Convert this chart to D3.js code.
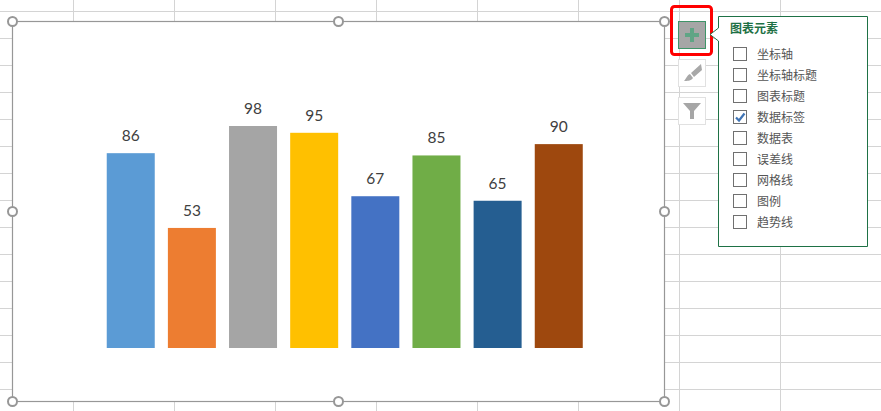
<!DOCTYPE html>
<html lang="zh-CN">
<head>
    <meta charset="UTF-8">
    <title>图表元素</title>
    <script src="https://d3js.org/d3.v7.min.js"></script>
    <style>
        html, body { margin: 0; padding: 0; background: #fff; overflow: hidden; }
        svg { display: block; }
        .value { font: 15.5px Lato, sans-serif; fill: #404040; text-anchor: middle; }
        .item { font: 12px "Noto Sans CJK SC", sans-serif; fill: #555; }
        .title { font: bold 12px "Noto Sans CJK SC", sans-serif; fill: #1e7145; }
    </style>
</head>
<body>
    <div id="chart"></div>
    <script>
        // Bars
        const categories = ["a", "b", "c", "d", "e", "f", "g", "h"];
        const values = [86, 53, 98, 95, 67, 85, 65, 90];
        const barColors = ["#5b9bd5", "#ed7d31", "#a5a5a5", "#ffc000", "#4472c4", "#70ad47", "#255e91", "#9e480e"];

        // Chart elements panel
        const panelTitle = "图表元素";
        const panelItems = ["坐标轴", "坐标轴标题", "图表标题", "数据标签", "数据表", "误差线", "网格线", "图例", "趋势线"];
        const panelChecked = ["数据标签"];

        const width = 881;
        const height = 411;

        const svg = d3.select("#chart").append("svg")
            .attr("width", width)
            .attr("height", height);

        // Worksheet cells behind the chart
        const gridX = d3.range(73.5, width, 101);
        const gridY = d3.range(11.5, height, 27);
        svg.selectAll(".gx").data(gridX).enter().append("line")
            .attr("x1", d => d).attr("x2", d => d)
            .attr("y1", 0).attr("y2", height)
            .attr("stroke", "#d4d4d4");
        svg.selectAll(".gy").data(gridY).enter().append("line")
            .attr("x1", 0).attr("x2", width)
            .attr("y1", d => d).attr("y2", d => d)
            .attr("stroke", "#d4d4d4");

        // Chart area
        const frame = { left: 12.5, top: 21.5, right: 664.5, bottom: 401.5 };
        svg.append("rect")
            .attr("x", frame.left)
            .attr("y", frame.top)
            .attr("width", frame.right - frame.left)
            .attr("height", frame.bottom - frame.top)
            .attr("fill", "#fff")
            .attr("stroke", "#979797")
            .attr("stroke-width", 1.2);

        const x = d3.scaleBand()
            .domain(categories)
            .range([100.2, 589.3])
            .paddingInner(0.215)
            .paddingOuter(0.107);
        const y = d3.scaleLinear()
            .domain([0, 98])
            .range([348, 126]);

        svg.selectAll(".bar").data(values).enter().append("rect")
            .attr("class", "bar")
            .attr("x", (d, i) => x(categories[i]))
            .attr("y", d => y(d))
            .attr("width", x.bandwidth())
            .attr("height", d => y(0) - y(d))
            .attr("fill", (d, i) => barColors[i]);

        svg.selectAll(".value").data(values).enter().append("text")
            .attr("class", "value")
            .attr("x", (d, i) => x(categories[i]) + x.bandwidth() / 2)
            .attr("y", d => y(d) - 12)
            .text(d => d);

        // Selection handles
        const midX = (frame.left + frame.right) / 2;
        const midY = (frame.top + frame.bottom) / 2;
        const handles = [
            [frame.left, frame.top], [midX, frame.top], [frame.right, frame.top],
            [frame.left, midY], [frame.right, midY],
            [frame.left, frame.bottom], [midX, frame.bottom], [frame.right, frame.bottom]
        ];
        svg.selectAll(".handle").data(handles).enter().append("circle")
            .attr("cx", d => d[0])
            .attr("cy", d => d[1])
            .attr("r", 4.5)
            .attr("fill", "#fff")
            .attr("stroke", "#979797")
            .attr("stroke-width", 2);

        // Side buttons
        svg.append("rect").attr("x", 678.5).attr("y", 21.5).attr("width", 27).attr("height", 27)
            .attr("fill", "#a6a6a6").attr("stroke", "#3f9468");
        svg.append("path")
            .attr("d", "M690 28h4v5h5v4h-5v5h-4v-5h-5v-4h5z")
            .attr("fill", "#5fa585");
        svg.append("rect").attr("x", 671.5).attr("y", 6.5).attr("width", 40).attr("height", 48).attr("rx", 3)
            .attr("fill", "none").attr("stroke", "#ff0000").attr("stroke-width", 3);

        svg.append("rect").attr("x", 678.5).attr("y", 59.5).attr("width", 27).attr("height", 27)
            .attr("fill", "#fff").attr("stroke", "#e1e1e1");
        svg.append("path")
            .attr("d", "M701 64L702 70L694 77L691 73ZM690 74L693 78C691 81 687 81 684 81C686 79 687 75 690 74Z")
            .attr("fill", "#a8a8a8");

        svg.append("rect").attr("x", 678.5).attr("y", 97.5).attr("width", 27).attr("height", 27)
            .attr("fill", "#fff").attr("stroke", "#e1e1e1");
        svg.append("path")
            .attr("d", "M683 103h18l-7 8v8h-4v-8z")
            .attr("fill", "#a6a6a6");

        // Panel with its pointer
        svg.append("path")
            .attr("d", "M718.5 16.5H867.5V246.5H718.5V41L710 34.5L718.5 28Z")
            .attr("fill", "#fff")
            .attr("stroke", "#1e7145");

        svg.append("text")
            .attr("class", "title")
            .attr("x", 730)
            .attr("y", 33)
            .text(panelTitle);

        const rowY = d3.scalePoint()
            .domain(panelItems)
            .range([54, 222]);

        const rows = svg.selectAll(".row").data(panelItems).enter().append("g")
            .attr("class", "row")
            .attr("transform", d => `translate(0, ${rowY(d)})`);
        rows.append("rect")
            .attr("x", 733.5).attr("y", -6.5)
            .attr("width", 13).attr("height", 13)
            .attr("fill", "#fff")
            .attr("stroke", "#707070");
        rows.append("text")
            .attr("class", "item")
            .attr("x", 757)
            .attr("y", 4.5)
            .text(d => d);
        rows.filter(d => panelChecked.includes(d)).append("path")
            .attr("d", "M736 0.5L739 3.5L744.5 -3.5")
            .attr("fill", "none")
            .attr("stroke", "#3f74b5")
            .attr("stroke-width", 2.2);
    </script>
</body>
</html>
